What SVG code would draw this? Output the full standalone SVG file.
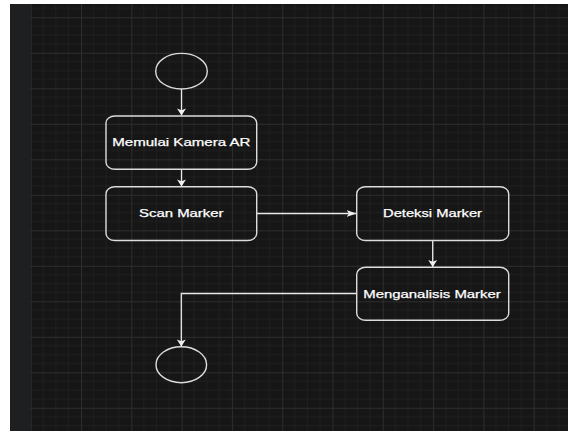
<svg xmlns="http://www.w3.org/2000/svg" width="568" height="431" viewBox="0 0 568 431">
  <style>
    .node { fill: none; stroke: #dcdcdc; stroke-width: 1.4; }
    .lbl { fill: #ffffff; stroke: #ffffff; stroke-width: 0.25; font-family: "Liberation Sans", Arial, sans-serif; font-size: 11px; text-anchor: middle; }
    .edge { fill: none; stroke: #e8e8e8; stroke-width: 1.3; }
    .head { fill: #f0f0f0; stroke: none; }
  </style>
  <defs>
    <pattern id="grid" patternUnits="userSpaceOnUse" x="81" y="17.3" width="50.3" height="35.5">
      <rect width="50.3" height="35.5" fill="#161616"/>
      <path d="M12.575 0V35.5M25.15 0V35.5M37.725 0V35.5M0 8.875H50.3M0 17.75H50.3M0 26.625H50.3" stroke="#1f1f1f" stroke-width="1"/>
      <path d="M0.5 0V35.5M0 0.5H50.3" stroke="#2d2d2d" stroke-width="1"/>
    </pattern>
    <marker id="av" markerUnits="userSpaceOnUse" markerWidth="12" markerHeight="12" refX="6" refY="10" orient="0">
      <path class="head" d="M6 10L1.5 3L6 4.8L10.5 3Z"/>
    </marker>
    <marker id="ah" markerUnits="userSpaceOnUse" markerWidth="12" markerHeight="12" refX="10" refY="6" orient="0">
      <path class="head" d="M10 6L0 2.5L2.5 6L0 9.5Z"/>
    </marker>
  </defs>

  <rect x="0" y="0" width="568" height="431" fill="#ffffff"/>
  <rect x="10" y="4" width="20" height="427" fill="#1e1f21"/>
  <rect x="30" y="4" width="538" height="427" fill="url(#grid)"/>

  <g id="connectors">
    <path class="edge" d="M181.5 89V115.5" marker-end="url(#av)"/>
    <path class="edge" d="M181.5 169.3V186.5" marker-end="url(#av)"/>
    <path class="edge" d="M256.7 213.5H356.5" marker-end="url(#ah)"/>
    <path class="edge" d="M432.7 240.5V267" marker-end="url(#av)"/>
    <path class="edge" d="M356.7 293.5H181.3V346.5" marker-end="url(#av)"/>
  </g>

  <g id="start">
    <ellipse class="node" cx="181.5" cy="71.2" rx="25.8" ry="17.8"/>
  </g>
  <g id="memulai">
    <rect class="node" x="106" y="116" width="150.7" height="53.3" rx="9" ry="7"/>
    <text class="lbl" x="181.3" y="146.2" textLength="138" lengthAdjust="spacingAndGlyphs">Memulai Kamera AR</text>
  </g>
  <g id="scan">
    <rect class="node" x="106" y="186.7" width="150.7" height="53.8" rx="9" ry="7"/>
    <text class="lbl" x="181.3" y="217.4" textLength="84.5" lengthAdjust="spacingAndGlyphs">Scan Marker</text>
  </g>
  <g id="deteksi">
    <rect class="node" x="356.7" y="186.7" width="152" height="53.8" rx="9" ry="7"/>
    <text class="lbl" x="432.5" y="217.4" textLength="99" lengthAdjust="spacingAndGlyphs">Deteksi Marker</text>
  </g>
  <g id="menganalisis">
    <rect class="node" x="356.7" y="267.3" width="152" height="53" rx="9" ry="7"/>
    <text class="lbl" x="432" y="297.6" textLength="137.5" lengthAdjust="spacingAndGlyphs">Menganalisis Marker</text>
  </g>
  <g id="end">
    <ellipse class="node" cx="181.3" cy="364.7" rx="25.3" ry="18"/>
  </g>
</svg>
